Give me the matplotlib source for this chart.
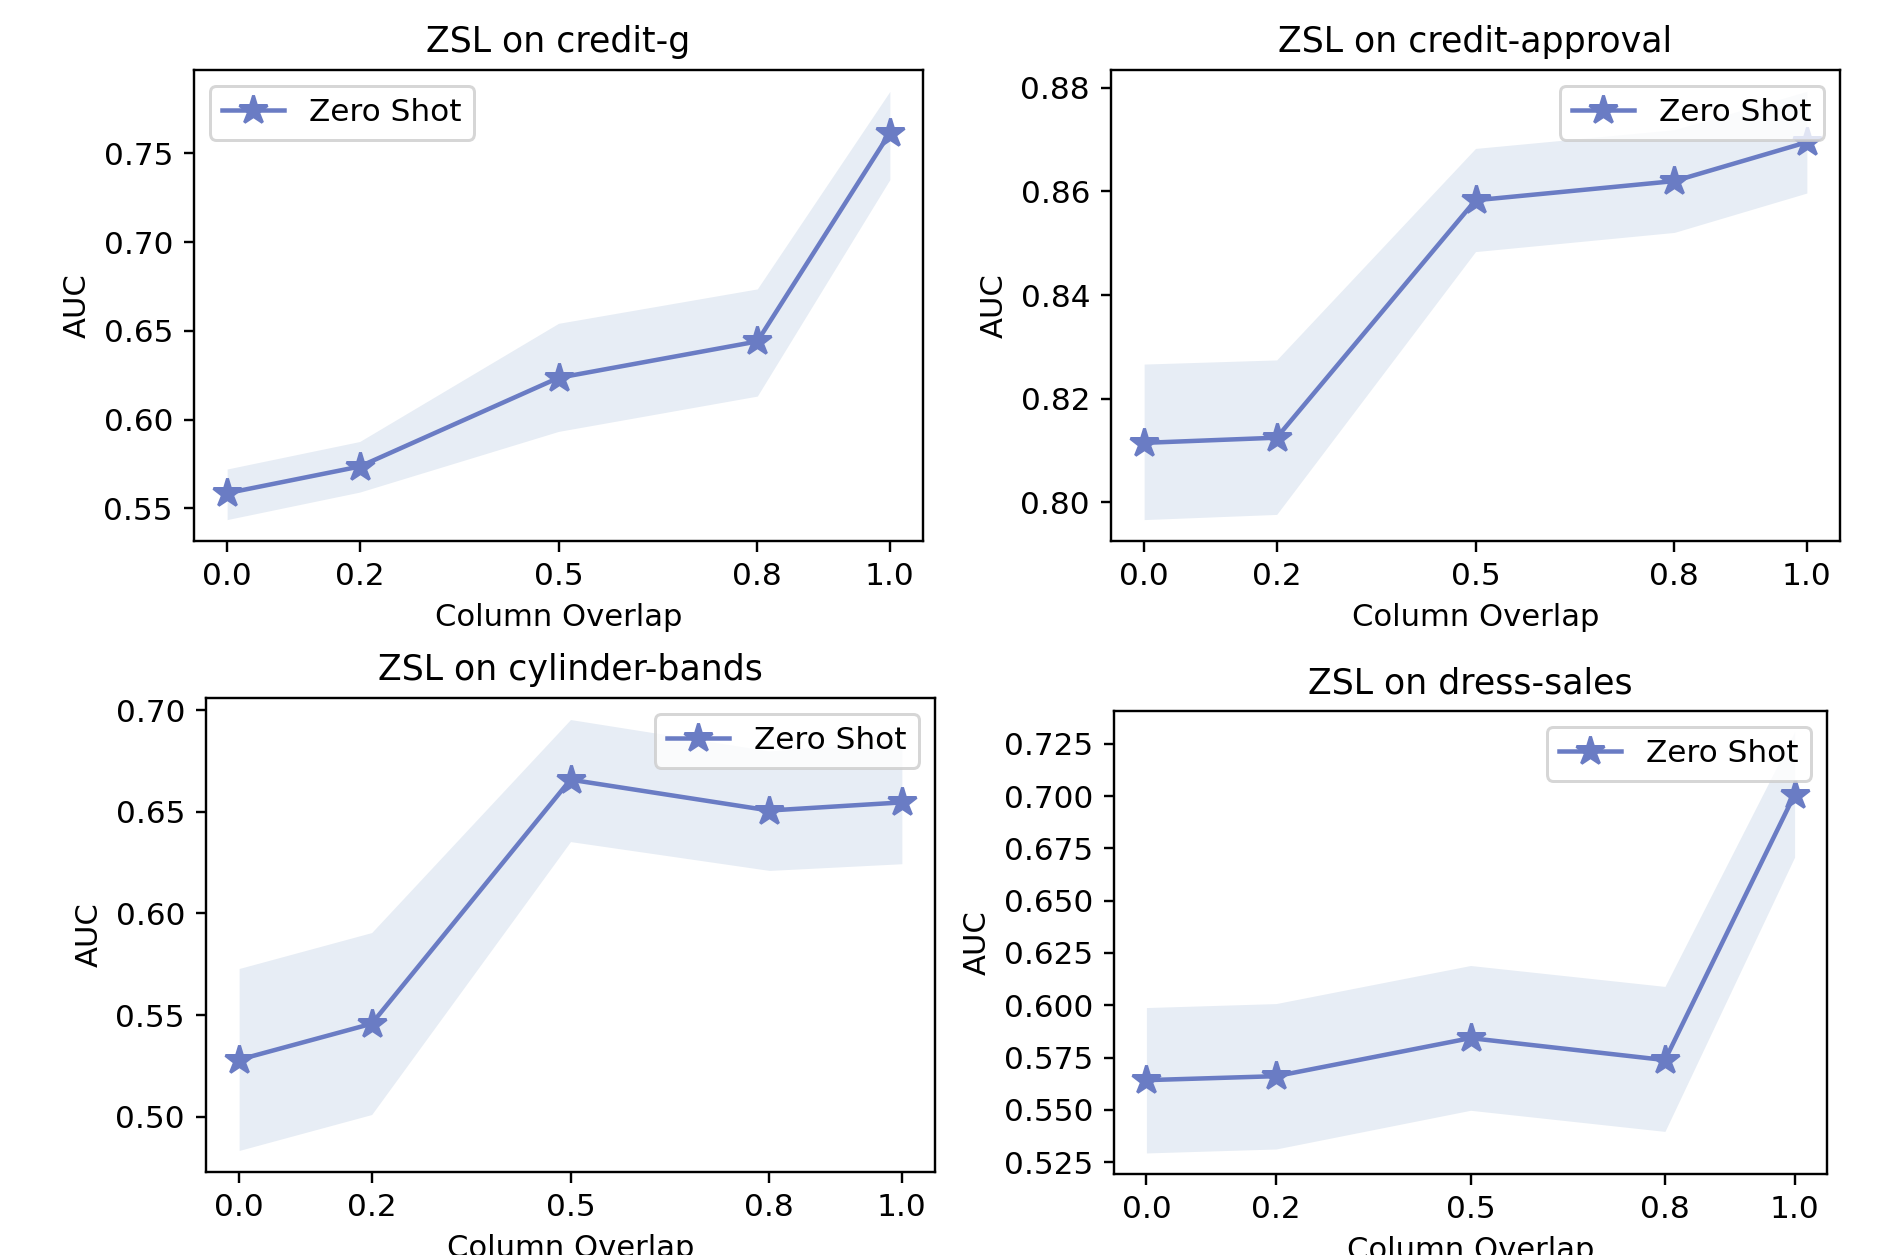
import numpy as np
import matplotlib
matplotlib.use("Agg")
import matplotlib.pyplot as plt
from matplotlib.ticker import MultipleLocator

# --- Data ---
overlap = [0.0, 0.2, 0.5, 0.8, 1.0]
xticks = [0.0, 0.2, 0.5, 0.8, 1.0]

datasets = ["credit-g", "credit-approval", "cylinder-bands", "dress-sales"]

credit_g_mean = [0.5585, 0.5735, 0.6235, 0.6440, 0.7615]
credit_g_lo = [0.5436, 0.5591, 0.5933, 0.6132, 0.7352]
credit_g_hi = [0.5721, 0.5876, 0.6542, 0.6736, 0.7849]

credit_approval_mean = [0.8115, 0.8125, 0.8583, 0.8620, 0.8695]
credit_approval_lo = [0.7967, 0.7977, 0.8484, 0.8521, 0.8597]
credit_approval_hi = [0.8267, 0.8275, 0.8683, 0.8719, 0.8793]

cylinder_bands_mean = [0.5280, 0.5457, 0.6659, 0.6507, 0.6547]
cylinder_bands_lo = [0.4833, 0.5010, 0.6354, 0.6212, 0.6245]
cylinder_bands_hi = [0.5729, 0.5906, 0.6955, 0.6800, 0.6849]

dress_sales_mean = [0.5642, 0.5661, 0.5843, 0.5738, 0.7007]
dress_sales_lo = [0.5294, 0.5313, 0.5498, 0.5397, 0.6708]
dress_sales_hi = [0.5989, 0.6008, 0.6190, 0.6090, 0.7306]

means = [credit_g_mean, credit_approval_mean, cylinder_bands_mean, dress_sales_mean]
lows = [credit_g_lo, credit_approval_lo, cylinder_bands_lo, dress_sales_lo]
highs = [credit_g_hi, credit_approval_hi, cylinder_bands_hi, dress_sales_hi]
legend_locs = ["upper left", "upper right", "upper right", "upper right"]
ytick_steps = [0.05, 0.02, 0.05, 0.025]

# axes boxes in pixels (left, top, right, bottom) of the 1881x1255 canvas
W, H = 1881, 1255
boxes = [(194, 70, 923, 541), (1111, 70, 1840, 541),
         (206, 698, 935, 1172), (1114, 711, 1827, 1174)]

line_color = "#6a7cc4"
fill_color = "lightsteelblue"

dpi = 216
fig = plt.figure(figsize=(W / dpi, H / dpi), dpi=dpi)

for i, name in enumerate(datasets):
    l, t, r, b = boxes[i]
    ax = fig.add_axes([l / W, 1 - b / H, (r - l) / W, (b - t) / H])
    ax.fill_between(overlap, lows[i], highs[i], color=fill_color, alpha=0.3, lw=0)
    ax.plot(overlap, means[i], color=line_color, marker="*", markersize=10,
            lw=1.5, label="Zero Shot")
    ax.set_xticks(xticks)
    ax.yaxis.set_major_locator(MultipleLocator(ytick_steps[i]))
    ax.set_title(f"ZSL on {name}", fontsize=11.6)
    ax.set_xlabel("Column Overlap", fontsize=10.2)
    ax.set_ylabel("AUC", fontsize=10.2)
    ax.tick_params(labelsize=10.4)
    ax.legend(loc=legend_locs[i], fontsize=10.4)

fig.savefig("out.png", dpi=dpi)
